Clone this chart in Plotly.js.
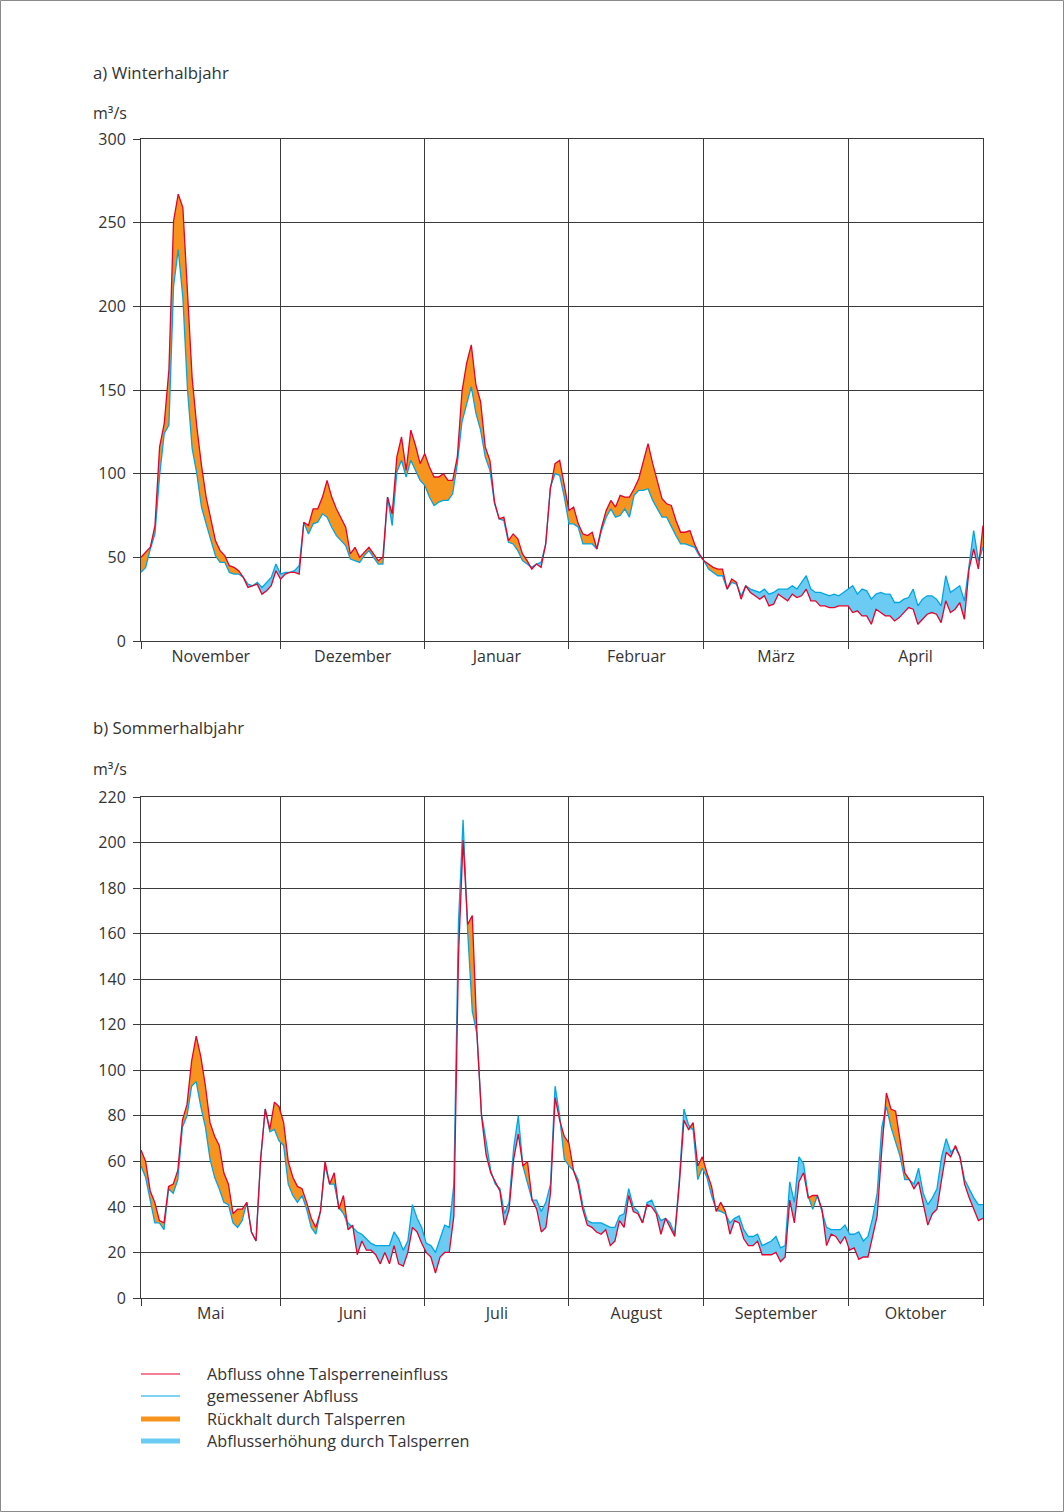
<!DOCTYPE html>
<html>
<head>
<meta charset="utf-8">
<script src="https://cdn.plot.ly/plotly-3.0.1.min.js"></script>
<style>
  html, body { margin: 0; padding: 0; background: #ffffff; }
  #chart { width: 1064px; height: 1512px; }
</style>
</head>
<body>
<div id="chart"></div>
<script>
// ---------------- data ----------------
const winterTitle = "a) Winterhalbjahr";
const summerTitle = "b) Sommerhalbjahr";
const unitLabel = "m³/s";

const winterMonths = ["November", "Dezember", "Januar", "Februar", "März", "April"];
const winterMonthDays = [30, 31, 31, 29, 31, 30];
const summerMonths = ["Mai", "Juni", "Juli", "August", "September", "Oktober"];

const winterTicks = [0, 50, 100, 150, 200, 250, 300];
const summerTicks = [0, 20, 40, 60, 80, 100, 120, 140, 160, 180, 200, 220];

const legendLabels = [
  "Abfluss ohne Talsperreneinfluss",
  "gemessener Abfluss",
  "Rückhalt durch Talsperren",
  "Abflusserhöhung durch Talsperren"
];

// daily discharge, winter half-year (1 Nov - 30 Apr), m3/s
const winterNatural = [
  50, 53, 56, 69, 116, 130, 162, 251, 267, 259,
  205, 157, 128, 105, 86, 72, 60, 54, 51, 45,
  44, 42, 38, 32, 33, 34, 28, 30, 33, 42,
  37, 40, 41, 41, 40, 71, 69, 79, 79, 86,
  96, 86, 79, 73, 68, 52, 56, 50, 53, 56,
  52, 48, 50, 86, 76, 110, 122, 102, 126, 117,
  106, 112, 104, 98, 98, 100, 96, 96, 110, 149,
  166, 177, 153, 143, 116, 108, 83, 73, 74, 60,
  64, 61, 52, 48, 43, 46, 44, 58, 91, 106,
  108, 92, 78, 80, 70, 64, 63, 65, 55, 68,
  78, 84, 80, 87, 86, 86, 91, 97, 108, 118,
  106, 95, 85, 82, 81, 72, 65, 65, 66, 58,
  52, 48, 46, 44, 43, 43, 31, 37, 35, 25,
  33, 29, 27, 25, 27, 21, 22, 28, 26, 24,
  28, 26, 27, 31, 24, 24, 21, 21, 20, 20,
  21, 21, 21, 17, 18, 15, 15, 10, 19, 17,
  15, 15, 12, 14, 17, 20, 19, 10, 13, 16,
  17, 16, 11, 24, 17, 19, 23, 13, 43, 55,
  43, 69
];
const winterMeasured = [
  41, 44, 55, 64, 99, 124, 129, 212, 234, 205,
  150, 115, 100, 80, 70, 60, 51, 47, 47, 41,
  40, 40, 38, 34, 33, 35, 32, 35, 38, 46,
  40, 41, 41, 42, 45, 71, 64, 70, 71, 76,
  74, 68, 63, 60, 57, 49, 48, 47, 51, 54,
  50, 46, 46, 86, 69, 101, 108, 98, 108, 102,
  96, 93, 86, 81, 83, 84, 84, 88, 106, 131,
  142, 152, 136, 126, 110, 102, 82, 73, 72, 59,
  58, 54, 48, 46, 44, 46, 47, 58, 92, 100,
  99, 86, 70, 70, 68, 58, 58, 58, 55, 66,
  74, 79, 74, 75, 79, 74, 87, 90, 90, 91,
  84, 79, 74, 74, 68, 63, 58, 58, 57, 56,
  51, 48, 43, 41, 39, 39, 31, 35, 34, 27,
  33, 31, 30, 29, 31, 28, 29, 31, 31, 31,
  33, 31, 35, 39, 31, 29, 29, 28, 27, 28,
  27, 29, 31, 33, 28, 31, 30, 25, 28, 29,
  28, 28, 23, 23, 25, 26, 31, 21, 25, 27,
  27, 25, 21, 39, 29, 31, 33, 24, 45, 66,
  48, 56
];

// daily discharge, summer half-year (1 May - 31 Oct), m3/s
const summerNatural = [
  65, 60, 47, 42, 34, 33, 49, 50, 56, 78,
  85, 104, 115, 106, 93, 77, 71, 67, 55, 50,
  37, 39, 39, 42, 29, 25, 61, 83, 74, 86,
  84, 77, 60, 53, 49, 48, 42, 35, 31, 38,
  60, 50, 55, 39, 45, 30, 32, 19, 25, 21,
  21, 19, 15, 20, 15, 23, 15, 14, 20, 31,
  29, 24, 20, 18, 11, 18, 20, 20, 36, 150,
  201, 164, 168, 117, 80, 63, 55, 51, 47, 32,
  39, 61, 72, 58, 60, 43, 39, 29, 31, 46,
  88, 78, 71, 68, 56, 50, 39, 32, 31, 29,
  28, 30, 23, 25, 34, 31, 45, 38, 37, 33,
  41, 40, 37, 28, 35, 31, 27, 50, 78, 74,
  77, 58, 62, 55, 49, 38, 42, 38, 28, 34,
  33, 26, 23, 23, 25, 19, 19, 19, 20, 16,
  18, 43, 33, 51, 55, 44, 45, 45, 39, 23,
  28, 27, 24, 27, 21, 22, 17, 18, 18, 27,
  36, 65, 90, 83, 82, 69, 55, 52, 48, 51,
  41, 32, 37, 39, 52, 64, 62, 67, 62, 50,
  44, 39, 34, 35
];
const summerMeasured = [
  58, 53, 43, 33, 33, 30, 48, 46, 52, 75,
  80, 93, 95, 84, 75, 61, 53, 48, 42, 41,
  33, 31, 34, 42, 29, 25, 61, 83, 73, 74,
  69, 67, 50, 45, 42, 45, 39, 31, 28, 38,
  58, 50, 50, 40, 37, 33, 31, 29, 28, 26,
  24, 23, 23, 23, 23, 29, 26, 21, 25, 41,
  35, 31, 24, 23, 20, 26, 32, 31, 50, 165,
  210, 161, 126, 116, 81, 69, 56, 50, 48, 37,
  42, 66, 80, 58, 50, 43, 43, 38, 42, 50,
  93, 80, 61, 58, 56, 52, 41, 34, 33, 33,
  33, 32, 31, 31, 36, 37, 48, 40, 38, 33,
  42, 43, 38, 34, 35, 33, 28, 52, 83, 76,
  74, 52, 57, 53, 45, 39, 38, 37, 33, 35,
  36, 30, 27, 27, 28, 23, 24, 25, 27, 22,
  23, 51, 42, 62, 59, 45, 39, 45, 38, 31,
  30, 30, 30, 32, 28, 28, 29, 25, 27, 35,
  46, 75, 84, 75, 69, 62, 52, 52, 50, 57,
  46, 41, 44, 48, 62, 70, 64, 66, 62, 52,
  48, 44, 41, 41
];

// ---------------- styling ----------------
const RED = "#e4032e";
const BLUE = "#00a6e2";
const ORANGE = "#f7941d";
const LIGHTBLUE = "#6ccbf2";
const GRID = "#3a3a3a";
const TEXT = "#333333";
const FONT = "Open Sans, Noto Sans, sans-serif";
const FS = 16;

const W = 1064, H = 1512;
const px = v => v / W;
const py = v => 1 - v / H;

// month-start grid positions in winter day units; the original draws the same grid in both panels
const lastWinter = winterNatural.length - 1;
const lastSummer = summerNatural.length - 1;
const bounds = [0];
winterMonthDays.forEach(d => bounds.push(bounds[bounds.length - 1] + d));
const gridVals = bounds.slice(0, winterMonthDays.length).concat([lastWinter]);
const labelCenters = winterMonthDays.map((d, k) => (bounds[k] + Math.min(bounds[k + 1], lastWinter)) / 2);
const scaleB = lastSummer / lastWinter;

function panelTraces(xa, ya, nat, meas, nameNat, nameMeas) {
  const x = nat.map((_, i) => i);
  const lo = nat.map((v, i) => Math.min(v, meas[i]));
  const base = { x: x, xaxis: xa, yaxis: ya, type: "scatter", mode: "lines",
                 hoverinfo: "skip", showlegend: false };
  const hidden = { width: 0, color: "rgba(0,0,0,0)" };
  return [
    Object.assign({}, base, { y: lo, line: hidden }),
    Object.assign({}, base, { y: nat, fill: "tonexty", fillcolor: ORANGE, line: hidden }),
    Object.assign({}, base, { y: lo, line: hidden }),
    Object.assign({}, base, { y: meas, fill: "tonexty", fillcolor: LIGHTBLUE, line: hidden }),
    Object.assign({}, base, { y: meas, name: nameMeas, line: { color: BLUE, width: 1.3 } }),
    Object.assign({}, base, { y: nat, name: nameNat, line: { color: RED, width: 1.3 } })
  ];
}

const data = []
  .concat(panelTraces("x", "y", winterNatural, winterMeasured, legendLabels[0], legendLabels[1]))
  .concat(panelTraces("x2", "y2", summerNatural, summerMeasured, legendLabels[0], legendLabels[1]));

const xDom = [px(141), px(983)];
const yDomA = [py(641), py(139)];
const yDomB = [py(1298), py(797)];

const tickFont = { family: FONT, size: FS, color: TEXT };

function monthAxis(anchor, lastIdx, scale, names) {
  return {
    domain: xDom, anchor: anchor, range: [0, lastIdx],
    tickmode: "array", tickvals: labelCenters.map(v => v * scale), ticktext: names,
    ticks: "", showgrid: false, tickfont: tickFont, ticklabelstandoff: 1,
    minor: {
      tickmode: "array", tickvals: gridVals.map(v => v * scale),
      ticks: "outside", ticklen: 7, tickwidth: 1, tickcolor: GRID,
      showgrid: true, gridcolor: GRID, gridwidth: 1
    },
    showline: true, linecolor: GRID, linewidth: 1, mirror: true,
    zeroline: false, fixedrange: true
  };
}
function valueAxis(dom, anchor, vals) {
  return {
    domain: dom, anchor: anchor, range: [0, vals[vals.length - 1]],
    tickmode: "array", tickvals: vals,
    ticks: "outside", ticklen: 7, tickwidth: 1, tickcolor: GRID,
    showgrid: true, gridcolor: GRID, gridwidth: 1,
    showline: true, linecolor: GRID, linewidth: 1, mirror: true,
    zeroline: false, tickfont: tickFont, ticklabelstandoff: 4, fixedrange: true
  };
}

const annFont = { family: FONT, size: FS, color: TEXT };
const titleFont = { family: FONT, size: 16.8, color: TEXT };
const annotations = [
  { text: winterTitle, x: px(91), y: py(72), font: titleFont },
  { text: unitLabel, x: px(91), y: py(113), font: annFont },
  { text: summerTitle, x: px(91), y: py(728), font: titleFont },
  { text: unitLabel, x: px(91), y: py(769), font: annFont }
].map(a => Object.assign(a, { xref: "paper", yref: "paper", xanchor: "left", yanchor: "middle",
                              showarrow: false }));

// legend drawn as a key block below the charts
const legendRows = [1374, 1396, 1419, 1441];
const legendStyle = [
  { color: RED, width: 1.2 },
  { color: BLUE, width: 1.2 },
  { color: ORANGE, width: 5 },
  { color: LIGHTBLUE, width: 5 }
];
const shapes = [
  { type: "rect", xref: "paper", yref: "paper", x0: 0.5 / W, x1: 1 - 0.5 / W, y0: 0.5 / H, y1: 1 - 0.5 / H,
    line: { color: "#8a8a8a", width: 1 }, fillcolor: "rgba(0,0,0,0)" }
];
legendRows.forEach((yy, k) => {
  shapes.push({ type: "line", xref: "paper", yref: "paper",
                x0: px(141), x1: px(180), y0: py(yy), y1: py(yy), line: legendStyle[k] });
  annotations.push({ text: legendLabels[k], xref: "paper", yref: "paper", x: px(205), y: py(yy),
                     xanchor: "left", yanchor: "middle", showarrow: false,
                     font: { family: FONT, size: 16.2, color: TEXT } });
});

const layout = {
  width: W, height: H,
  margin: { l: 0, r: 0, t: 0, b: 0, pad: 0 },
  paper_bgcolor: "#ffffff", plot_bgcolor: "rgba(0,0,0,0)",
  showlegend: false,
  font: { family: FONT, color: TEXT },
  xaxis: monthAxis("y", lastWinter, 1, winterMonths),
  yaxis: valueAxis(yDomA, "x", winterTicks),
  xaxis2: monthAxis("y2", lastSummer, scaleB, summerMonths),
  yaxis2: valueAxis(yDomB, "x2", summerTicks),
  annotations: annotations,
  shapes: shapes
};

Plotly.newPlot("chart", data, layout, { staticPlot: true, displayModeBar: false });
</script>
</body>
</html>
